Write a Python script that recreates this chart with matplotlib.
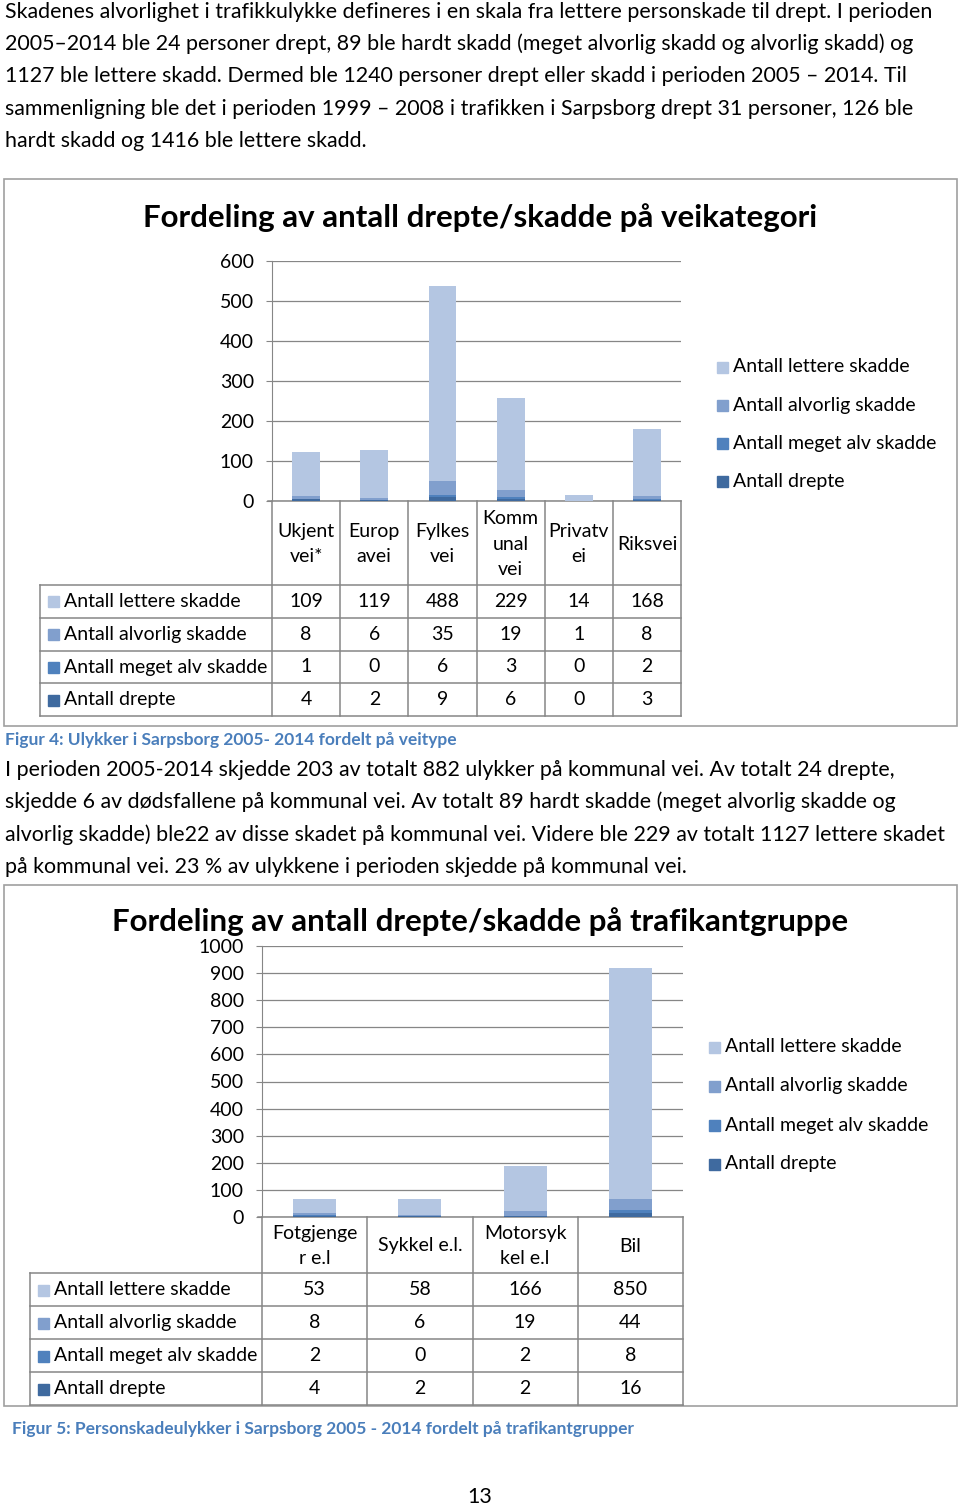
import matplotlib.pyplot as plt
from matplotlib.patches import Rectangle

W, H = 960, 1508
plt.rcParams['font.family'] = ['Lato', 'DejaVu Sans']

# data
series = ["Antall lettere skadde", "Antall alvorlig skadde",
          "Antall meget alv skadde", "Antall drepte"]
colors = ["#b4c6e2", "#819fcd", "#4f81bd", "#3f6a9f"]

road_cats = ["Ukjent\nvei*", "Europ\navei", "Fylkes\nvei", "Komm\nunal\nvei", "Privatv\nei", "Riksvei"]
road_lettere = [109, 119, 488, 229, 14, 168]
road_alvorlig = [8, 6, 35, 19, 1, 8]
road_meget = [1, 0, 6, 3, 0, 2]
road_drepte = [4, 2, 9, 6, 0, 3]

group_cats = ["Fotgjenge\nr e.l", "Sykkel e.l.", "Motorsyk\nkel e.l", "Bil"]
group_lettere = [53, 58, 166, 850]
group_alvorlig = [8, 6, 19, 44]
group_meget = [2, 0, 2, 8]
group_drepte = [4, 2, 2, 16]

para1 = [
    "Skadenes alvorlighet i trafikkulykke defineres i en skala fra lettere personskade til drept. I perioden",
    "2005\u20132014 ble 24 personer drept, 89 ble hardt skadd (meget alvorlig skadd og alvorlig skadd) og",
    "1127 ble lettere skadd. Dermed ble 1240 personer drept eller skadd i perioden 2005 \u2013 2014. Til",
    "sammenligning ble det i perioden 1999 \u2013 2008 i trafikken i Sarpsborg drept 31 personer, 126 ble",
    "hardt skadd og 1416 ble lettere skadd.",
]
para2 = [
    "I perioden 2005-2014 skjedde 203 av totalt 882 ulykker på kommunal vei. Av totalt 24 drepte,",
    "skjedde 6 av dødsfallene på kommunal vei. Av totalt 89 hardt skadde (meget alvorlig skadde og",
    "alvorlig skadde) ble22 av disse skadet på kommunal vei. Videre ble 229 av totalt 1127 lettere skadet",
    "på kommunal vei. 23 % av ulykkene i perioden skjedde på kommunal vei.",
]

fig = plt.figure(figsize=(W / 100, H / 100), dpi=100)
ov = fig.add_axes([0, 0, 1, 1])
ov.set_xlim(0, W)
ov.set_ylim(H, 0)
ov.axis("off")

GRID = "#868686"
FS = 14          # chart / table text
PFS = 15.4       # body paragraph text


def chart(box, title, title_y, plot_left, col_w, zero_y, top_y, ymax, step,
          cats, data, lab_left, head_bot, row_h, leg_x, leg_y):
    n = len(cats)
    ov.add_patch(Rectangle((box[0], box[1]), box[2] - box[0], box[3] - box[1],
                           fill=False, ec="#a0a0a0", lw=1.2))
    ov.text((box[0] + box[2]) / 2, title_y, title, ha="center", va="center",
            fontsize=22.5, fontweight="bold")
    right = plot_left + n * col_w
    ax = fig.add_axes([plot_left / W, (H - zero_y) / H, n * col_w / W, (zero_y - top_y) / H])
    ax.set_facecolor("none")
    bottom = [0] * n
    # stacked from the bottom: drepte, meget alv, alvorlig, lettere
    for vals, c in zip(data[::-1], colors[::-1]):
        ax.bar(range(n), vals, 0.41, bottom=bottom, color=c, zorder=3)
        bottom = [b + v for b, v in zip(bottom, vals)]
    ax.set_xlim(-0.5, n - 0.5)
    ax.set_ylim(0, ymax)
    ax.set_yticks(range(0, ymax + 1, step))
    ax.grid(axis="y", color=GRID, lw=0.9, zorder=0)
    ax.set_xticks([])
    for s in ax.spines.values():
        s.set_visible(False)
    ax.tick_params(axis="y", length=4, color=GRID, labelsize=FS, pad=9)
    ax.spines["left"].set_visible(True)
    ax.spines["left"].set_color(GRID)
    # data table
    nrows = len(data)
    tbl_bot = head_bot + nrows * row_h
    for i in range(n + 1):
        x = plot_left + i * col_w
        ov.plot([x, x], [zero_y, tbl_bot], color=GRID, lw=1.1)
    ov.plot([lab_left, lab_left], [head_bot, tbl_bot], color=GRID, lw=1.1)
    ov.plot([plot_left - 4, right], [zero_y, zero_y], color=GRID, lw=1.1)
    for r in range(nrows + 1):
        y = head_bot + r * row_h
        ov.plot([lab_left, right], [y, y], color=GRID, lw=1.1)
    for i, c in enumerate(cats):
        ov.text(plot_left + (i + 0.5) * col_w, (zero_y + head_bot) / 2 + 1, c,
                ha="center", va="center", fontsize=FS, linespacing=1.62)
    for r, (name, vals, col) in enumerate(zip(series, data, colors)):
        yc = head_bot + (r + 0.5) * row_h
        ov.add_patch(Rectangle((lab_left + 8, yc - 5), 11, 11, color=col))
        ov.text(lab_left + 24, yc, name, ha="left", va="center", fontsize=FS)
        for i, v in enumerate(vals):
            ov.text(plot_left + (i + 0.5) * col_w, yc, str(v), ha="center",
                    va="center", fontsize=FS)
    # legend
    for name, col, ly in zip(series, colors, leg_y):
        ov.add_patch(Rectangle((leg_x, ly - 5), 11, 11, color=col))
        ov.text(leg_x + 16, ly, name, ha="left", va="center", fontsize=FS)


for i, line in enumerate(para1):
    ov.text(5, 12 + i * 32.2, line, ha="left", va="center", fontsize=PFS)

chart((4, 179, 957, 726), "Fordeling av antall drepte/skadde på veikategori", 218,
      272, 68.2, 501, 261, 600, 100, road_cats,
      [road_lettere, road_alvorlig, road_meget, road_drepte],
      40, 585, 32.8, 717, [367, 405, 443, 481])

ov.text(5, 740, "Figur 4: Ulykker i Sarpsborg 2005- 2014 fordelt på veitype", ha="left",
        va="center", fontsize=12.5, fontweight="bold", color="#4a7ebb")

for i, line in enumerate(para2):
    ov.text(5, 770 + i * 32.2, line, ha="left", va="center", fontsize=PFS)

chart((4, 885, 957, 1406), "Fordeling av antall drepte/skadde på trafikantgruppe", 922,
      262, 105.25, 1217, 946, 1000, 100, group_cats,
      [group_lettere, group_alvorlig, group_meget, group_drepte],
      30, 1273, 33, 709, [1047, 1086, 1125, 1164])

ov.text(12, 1429, "Figur 5: Personskadeulykker i Sarpsborg 2005 - 2014 fordelt på trafikantgrupper",
        ha="left", va="center", fontsize=12.5, fontweight="bold", color="#4a7ebb")
ov.text(480, 1497, "13", ha="center", va="center", fontsize=PFS)

fig.savefig("out.png", dpi=100)
